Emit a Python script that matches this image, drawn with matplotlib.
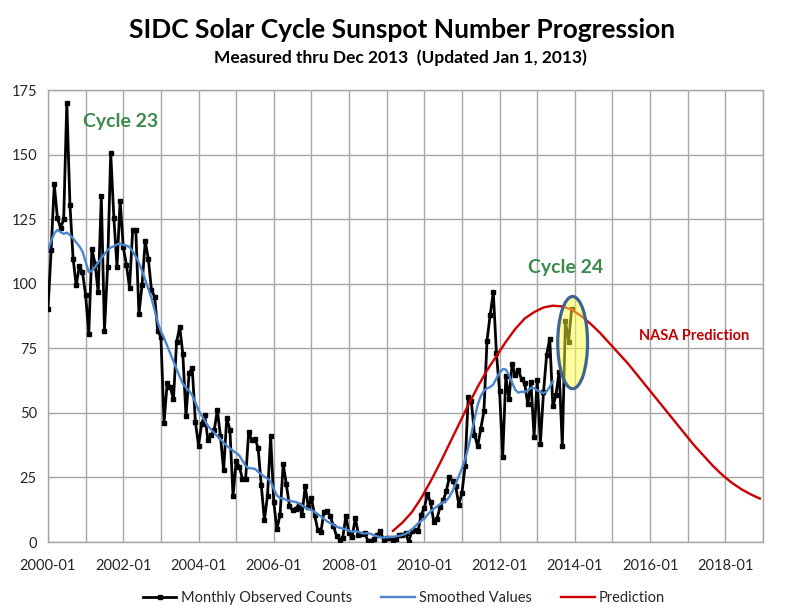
import numpy as np
import matplotlib
matplotlib.use("Agg")
from matplotlib import pyplot as plt
from matplotlib.patches import Ellipse

# SIDC monthly sunspot numbers, 2000-01 .. 2013-12
observed = [
    90.1, 112.9, 138.5, 125.5, 121.6, 124.9, 170.1, 130.5, 109.7, 99.4, 106.8, 104.4,
    95.6, 80.6, 113.5, 107.7, 96.6, 134.0, 81.8, 106.4, 150.7, 125.5, 106.5, 132.2,
    114.1, 107.4, 98.4, 120.7, 120.8, 88.3, 99.6, 116.4, 109.6, 97.5, 95.0, 81.6,
    79.5, 46.2, 61.5, 60.0, 55.2, 77.4, 83.3, 72.7, 48.7, 65.5, 67.3, 46.5,
    37.3, 45.8, 49.1, 39.3, 41.5, 43.2, 51.1, 40.9, 27.7, 48.0, 43.5, 17.9,
    31.3, 29.2, 24.5, 24.2, 42.7, 39.3, 40.0, 36.4, 22.1, 8.5, 18.0, 41.2,
    15.3, 4.9, 10.6, 30.2, 22.3, 13.9, 12.2, 12.9, 14.4, 10.4, 21.5, 13.6,
    16.9, 10.6, 4.8, 3.7, 11.7, 12.0, 10.0, 6.2, 2.4, 0.9, 1.7, 10.1,
    3.3, 2.1, 9.3, 2.9, 3.2, 3.4, 0.5, 0.5, 1.1, 2.9, 4.1, 0.8,
    1.5, 1.4, 0.7, 1.2, 2.9, 2.6, 3.5, 0.0, 4.2, 4.6, 4.2, 10.6,
    13.1, 18.6, 15.4, 7.9, 8.8, 13.5, 16.1, 19.6, 25.2, 23.5, 21.6, 14.5,
    19.0, 29.4, 56.2, 54.4, 41.6, 37.0, 43.9, 50.6, 78.0, 88.0, 96.7, 73.0,
    58.3, 33.1, 64.3, 55.2, 69.0, 64.5, 66.5, 63.0, 61.4, 53.3, 61.8, 40.8,
    62.9, 38.1, 57.9, 72.4, 78.7, 52.5, 57.0, 66.0, 37.0, 85.6, 77.6, 90.3,
]

# 13-month smoothed values, 2000-01 .. 2013-06
smoothed = [
    113.0, 116.5, 119.5, 120.8, 120.0, 119.3, 119.8, 118.8, 117.5, 116.0, 114.5, 112.5,
    108.5, 104.5, 105.0, 106.5, 108.2, 109.8, 111.5, 113.0, 114.0, 114.5, 115.2, 115.6,
    115.0, 114.8, 114.2, 112.5, 110.5, 108.0, 105.0, 101.5, 98.0, 94.5, 89.8, 85.0,
    81.5, 79.0, 76.0, 73.0, 70.0, 67.0, 64.0, 61.3, 59.8, 58.5, 56.8, 54.0,
    51.0, 49.0, 47.0, 45.0, 43.5, 42.3, 41.0, 39.8, 38.5, 37.3, 36.3, 35.3,
    34.5, 33.5, 31.5, 29.5, 28.6, 28.5, 28.3, 27.2, 26.2, 25.3, 24.5, 23.5,
    20.5, 18.0, 17.0, 16.8, 16.3, 16.0, 15.7, 15.5, 15.0, 14.2, 13.3, 12.8,
    12.4, 11.6, 10.8, 10.0, 9.0, 8.0, 7.3, 6.7, 6.0, 5.5, 5.2, 4.9,
    4.3, 4.0, 4.2, 4.0, 3.4, 3.3, 3.4, 3.1, 2.6, 2.2, 1.8, 1.7,
    1.8, 1.9, 2.0, 2.2, 2.4, 2.7, 3.1, 3.9, 4.8, 6.0, 7.2, 8.2,
    9.0, 10.5, 11.8, 12.8, 13.8, 14.6, 15.3, 16.0, 17.5, 19.8, 22.5, 25.5,
    28.5, 32.0, 36.5, 42.0, 47.5, 53.0, 56.5, 58.5, 59.5, 60.0, 61.0, 63.4,
    65.5, 66.9, 66.8, 64.6, 61.7, 58.9, 57.8, 58.2, 58.1, 58.6, 59.7, 59.6,
    58.7, 58.2, 57.6, 58.3, 60.0, 62.3,
]

# NASA prediction, read every 3 months starting 2009-03
pred_start = 110
pred_step = 3
prediction = [
    4.3, 7.5, 11.5, 17.0, 23.5, 30.5, 38.0, 45.5, 53.0, 60.0, 66.5, 72.0,
    77.5, 82.5, 86.5, 89.0, 90.8, 91.5, 91.2, 90.0, 87.5, 84.5, 81.0, 77.0,
    73.0, 69.0, 64.5, 60.0, 55.5, 51.0, 46.5, 42.0, 37.5, 33.5, 29.5, 26.0,
    23.0, 20.5, 18.5, 16.8,
]

tick_labels = ["2000-01", "2002-01", "2004-01", "2006-01", "2008-01",
               "2010-01", "2012-01", "2014-01", "2016-01", "2018-01"]

plt.rcParams['font.family'] = ['Lato', 'DejaVu Sans']
txt = '#262626'

W, H = 800, 616
fig = plt.figure(figsize=(W / 100, H / 100), dpi=100)
ax = fig.add_axes([48 / W, 1 - 542 / H, (763 - 48) / W, (542 - 90) / H])

x_obs = np.arange(len(observed))
x_sm = np.arange(len(smoothed))
x_pred = pred_start + pred_step * np.arange(len(prediction))

ax.plot(x_obs, observed, color='black', lw=2.0, marker='s', ms=3.5,
        label='Monthly Observed Counts', zorder=3)
ax.plot(x_sm, smoothed, color='#4a86d0', lw=1.7, label='Smoothed Values', zorder=4)
ax.plot(x_pred, prediction, color='#cc0000', lw=1.7, label='Prediction', zorder=4)

ell = Ellipse((167.3, 77.2), 9.5, 35.7, facecolor=(1, 1, 0.25, 0.5),
              edgecolor='#3e6491', lw=2.3, zorder=5)
ax.add_patch(ell)

ax.set_xlim(0, 228)
ax.set_ylim(0, 175)
ax.set_xticks(np.arange(0, 228, 24))
ax.set_xticklabels(tick_labels)
ax.set_xticks(np.arange(0, 229, 12), minor=True)
ax.set_yticks(np.arange(0, 176, 25))
ax.grid(True, which='both', axis='x', color='#a6a6a6', lw=1)
ax.grid(True, which='major', axis='y', color='#a6a6a6', lw=1)
ax.set_axisbelow(True)
ax.tick_params(which='both', length=0, labelsize=10.5, colors=txt)
ax.tick_params(axis='x', pad=12)
ax.tick_params(axis='y', pad=8)
for s in ax.spines.values():
    s.set_color('#a6a6a6')
    s.set_linewidth(1)

fig.text(402 / W, 1 - 30 / H, 'SIDC Solar Cycle Sunspot Number Progression',
         ha='center', va='center', fontsize=19, fontweight='bold', color='black')
fig.text(400 / W, 1 - 58 / H, 'Measured thru Dec 2013  (Updated Jan 1, 2013)',
         ha='center', va='center', fontsize=12.5, fontweight='bold', color='black')
fig.text(121 / W, 1 - 122 / H, 'Cycle 23', ha='center', va='center',
         fontsize=14, fontweight='bold', color='#3a8a4c')
fig.text(566 / W, 1 - 268 / H, 'Cycle 24', ha='center', va='center',
         fontsize=14, fontweight='bold', color='#3a8a4c')
fig.text(694 / W, 1 - 336 / H, 'NASA Prediction', ha='center', va='center',
         fontsize=10.5, fontweight='bold', color='#c00000')

fig.legend(loc='center', bbox_to_anchor=(0.505, 1 - 598 / H), ncol=3, frameon=False,
           fontsize=10.5, handlelength=2.3, columnspacing=2.0, handletextpad=0.3,
           labelcolor=txt)

fig.savefig('out.png', dpi=100)
